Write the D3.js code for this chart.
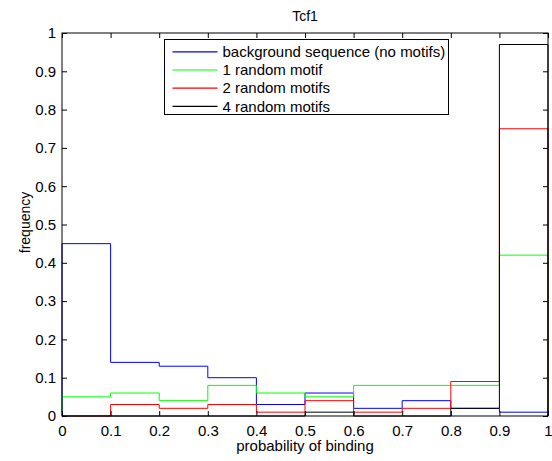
<!DOCTYPE html>
<html>
<head>
<meta charset="utf-8">
<script src="https://cdn.jsdelivr.net/npm/d3@7"></script>
<style>
  body { margin: 0; background: #fff; }
  text { font-family: "Liberation Sans", Arial, sans-serif; }
</style>
</head>
<body>
<svg width="552" height="461"></svg>
<script>
// bin edges and per-series frequencies (one value per bin)
var edges = [0, 0.1, 0.2, 0.3, 0.4, 0.5, 0.6, 0.7, 0.8, 0.9, 1];
var background = [0.45, 0.14, 0.13, 0.10, 0.03, 0.06, 0.02, 0.04, 0.02, 0.01];
var oneMotif   = [0.05, 0.06, 0.04, 0.08, 0.06, 0.05, 0.08, 0.08, 0.08, 0.42];
var twoMotifs  = [0.00, 0.03, 0.02, 0.03, 0.01, 0.04, 0.01, 0.02, 0.09, 0.75];
var fourMotifs = [0.00, 0.00, 0.00, 0.00, 0.00, 0.01, 0.00, 0.00, 0.02, 0.97];
var seriesNames = ["background sequence (no motifs)", "1 random motif", "2 random motifs", "4 random motifs"];
var seriesColors = ["#0000ff", "#00ff00", "#ff0000", "#000000"];
var xTicks = [0, 0.1, 0.2, 0.3, 0.4, 0.5, 0.6, 0.7, 0.8, 0.9, 1];
var yTicks = [0, 0.1, 0.2, 0.3, 0.4, 0.5, 0.6, 0.7, 0.8, 0.9, 1];

var svg = d3.select("svg"),
    margin = {top: 33, right: 4, bottom: 45, left: 62},
    width = +svg.attr("width") - margin.left - margin.right,
    height = +svg.attr("height") - margin.top - margin.bottom,
    g = svg.append("g").attr("transform", "translate(" + margin.left + "," + margin.top + ")");

var x = d3.scaleLinear().domain([0, 1]).range([0, width]);
var y = d3.scaleLinear().domain([0, 1]).range([height, 0]);

// histogram outline: start at 0, step through bins, drop back to 0
function outline(vals) {
    var pts = [[edges[0], 0]];
    vals.forEach(function(v, i) {
        pts.push([edges[i], v]);
        pts.push([edges[i + 1], v]);
    });
    pts.push([edges[edges.length - 1], 0]);
    return pts;
}

var line = d3.line()
    .x(function(d) { return x(d[0]); })
    .y(function(d) { return y(d[1]); });

[background, oneMotif, twoMotifs, fourMotifs].forEach(function(vals, i) {
    g.append("path")
        .datum(outline(vals))
        .attr("fill", "none")
        .attr("stroke", seriesColors[i])
        .attr("stroke-width", 1)
        .attr("d", line);
});

// axes box with inward ticks on all sides
function styleAxis(sel) {
    sel.select(".domain").remove();
    sel.selectAll("line").attr("stroke", "#000");
    sel.selectAll("text").attr("font-size", 15).attr("fill", "#000");
}

g.append("g")
    .attr("transform", "translate(0," + height + ")")
    .call(d3.axisBottom(x).tickValues(xTicks).tickFormat(d3.format("")).tickSizeInner(-5).tickPadding(9))
    .call(styleAxis);

g.append("g")
    .call(d3.axisLeft(y).tickValues(yTicks).tickFormat(d3.format("")).tickSizeInner(-5).tickPadding(6))
    .call(styleAxis);

g.append("g")
    .call(d3.axisTop(x).tickValues(xTicks).tickFormat("").tickSizeInner(-5))
    .call(styleAxis);

g.append("g")
    .attr("transform", "translate(" + width + ",0)")
    .call(d3.axisRight(y).tickValues(yTicks).tickFormat("").tickSizeInner(-5))
    .call(styleAxis);

g.append("rect")
    .attr("width", width)
    .attr("height", height)
    .attr("fill", "none")
    .attr("stroke", "#000")
    .attr("stroke-width", 1);

// legend
var legend = g.append("g").attr("transform", "translate(102.5,6.5)");
legend.append("rect")
    .attr("width", 284)
    .attr("height", 75)
    .attr("fill", "#fff")
    .attr("stroke", "#000");
seriesNames.forEach(function(name, i) {
    var ly = 12.3 + i * 18.2;
    legend.append("line")
        .attr("x1", 8).attr("x2", 53)
        .attr("y1", ly).attr("y2", ly)
        .attr("stroke", seriesColors[i])
        .attr("stroke-width", 1.2);
    legend.append("text")
        .attr("x", 58)
        .attr("y", ly)
        .attr("dy", "0.35em")
        .attr("font-size", 15)
        .text(name);
});

// title and labels
svg.append("text")
    .attr("x", margin.left + width / 2)
    .attr("y", 21)
    .attr("text-anchor", "middle")
    .attr("font-size", 14)
    .text("Tcf1");

svg.append("text")
    .attr("x", margin.left + width / 2)
    .attr("y", 451)
    .attr("text-anchor", "middle")
    .attr("font-size", 15)
    .text("probability of binding");

svg.append("text")
    .attr("transform", "translate(30," + (margin.top + height / 2 - 2) + ") rotate(-90)")
    .attr("text-anchor", "middle")
    .attr("font-size", 14)
    .text("frequency");
</script>
</body>
</html>
